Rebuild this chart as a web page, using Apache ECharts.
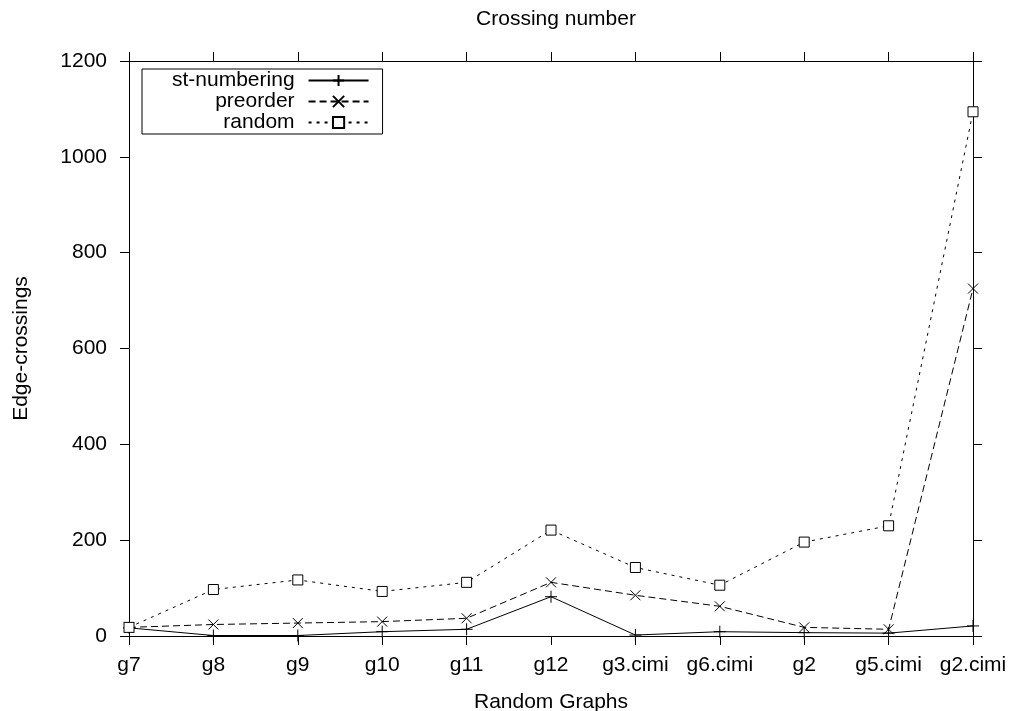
<!DOCTYPE html>
<html>
<head>
<meta charset="utf-8">
<script src="https://cdn.jsdelivr.net/npm/echarts@6/dist/echarts.min.js"></script>
<style>
html, body { margin: 0; padding: 0; background: #fff; }
#chart { width: 1010px; height: 711px; }
</style>
</head>
<body>
<div id="chart"></div>
<script>
// categories (random graphs)
var graphs = ['g7', 'g8', 'g9', 'g10', 'g11', 'g12', 'g3.cimi', 'g6.cimi', 'g2', 'g5.cimi', 'g2.cimi'];
// edge crossings per ordering
var stNumbering = [17, 1, 1, 9, 14, 82, 2, 9, 7, 6, 21];
var preorder = [18, 24, 27, 30, 37, 112, 85, 62, 18, 14, 725];
var random = [18, 97, 117, 93, 112, 221, 143, 106, 196, 230, 1094];
var yTicks = [0, 200, 400, 600, 800, 1000, 1200];

var font = 'Liberation Sans, Arial, Helvetica, sans-serif';
var fs = 21;
var chart = echarts.init(document.getElementById('chart'));

function mkSeries(name, data, symbol, size, dash, fill) {
	return {
		name: name,
		type: 'line',
		data: data,
		xAxisIndex: 0,
		yAxisIndex: 0,
		symbol: symbol,
		symbolSize: size,
		showAllSymbol: true,
		//线条样式
		lineStyle: { color: '#000', width: 1, type: dash },
		itemStyle: { color: fill, borderColor: '#000', borderWidth: 1 },
		emphasis: { disabled: true }
	};
}

function frameAxis(extra) {
	var ax = {
		axisLine: { show: true, onZero: false, lineStyle: { color: '#000', width: 1 } },
		axisTick: { show: true, interval: 0, length: 9, lineStyle: { color: '#000' } },
		axisLabel: { show: false },
		splitLine: { show: false }
	};
	for (var k in extra) ax[k] = extra[k];
	return ax;
}

var option = {
	animation: false,
	backgroundColor: '#fff',
	title: {
		text: 'Crossing number',
		left: 551,
		textAlign: 'center',
		top: 4,
		textStyle: { fontFamily: font, fontSize: fs, fontWeight: 'normal', color: '#000' }
	},
	legend: {
		orient: 'vertical',
		align: 'right',
		left: 142,
		top: 69,
		padding: [1, 13, 1, 30],
		borderColor: '#000',
		borderWidth: 1,
		itemWidth: 60,
		itemHeight: 14,
		itemGap: 0,
		selectedMode: false,
		textStyle: { fontFamily: font, fontSize: fs, color: '#000', lineHeight: 20, padding: [0, 9, 0, 0] },
		data: ['st-numbering', 'preorder', 'random']
	},
	grid: { left: 129, right: 37, top: 61, bottom: 75, show: false, containLabel: false, outerBoundsMode: 'none' },
	xAxis: [
		frameAxis({
			type: 'category',
			data: graphs,
			boundaryGap: false,
			position: 'bottom',
			name: 'Random Graphs',
			nameLocation: 'middle',
			nameGap: 56,
			nameTextStyle: { fontFamily: font, fontSize: fs, color: '#000' },
			axisLabel: { show: true, interval: 0, hideOverlap: false, margin: 19, fontFamily: font, fontSize: fs, color: '#000' }
		}),
		frameAxis({ type: 'category', data: graphs, boundaryGap: false, position: 'top' })
	],
	yAxis: [
		frameAxis({
			type: 'value',
			min: yTicks[0],
			max: yTicks[yTicks.length - 1],
			interval: 200,
			position: 'left',
			name: 'Edge-crossings',
			nameLocation: 'middle',
			nameGap: 97,
			nameTextStyle: { fontFamily: font, fontSize: fs, color: '#000' },
			axisLabel: {
				show: true, margin: 22, fontFamily: font, fontSize: fs, color: '#000',
				formatter: function (v) { return String(v); }
			}
		}),
		frameAxis({
			type: 'value',
			min: yTicks[0],
			max: yTicks[yTicks.length - 1],
			interval: 200,
			position: 'right'
		})
	],
	series: [
		mkSeries('st-numbering', stNumbering, 'path://M5,0L5,10M0,5L10,5', 12, 'solid', '#000'),
		mkSeries('preorder', preorder, 'path://M0,0L10,10M0,10L10,0', 10, [7, 4], '#000'),
		mkSeries('random', random, 'rect', 10, [3, 5], '#fff')
	]
};
chart.setOption(option);
</script>
</body>
</html>
